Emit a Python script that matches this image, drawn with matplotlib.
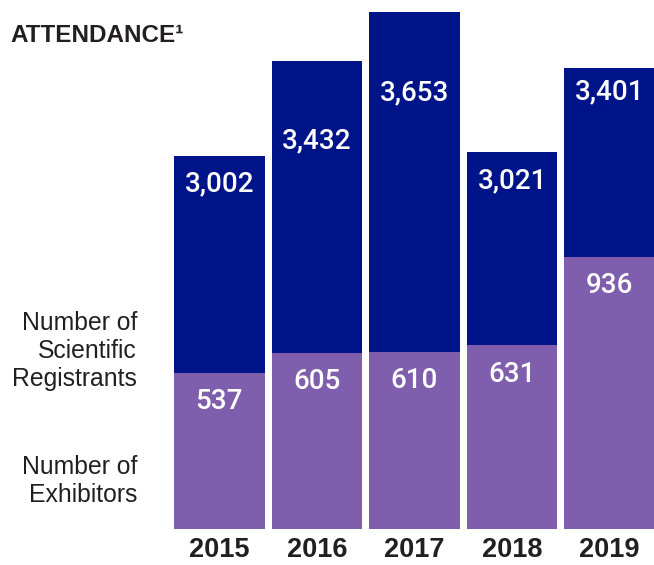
import matplotlib.pyplot as plt

years = ['2015', '2016', '2017', '2018', '2019']
registrants = [3002, 3432, 3653, 3021, 3401]
exhibitors = [537, 605, 610, 631, 936]

navy = '#001489'
purple = '#7f5ead'
ink = '#231f20'

plt.rcParams['font.family'] = ['Liberation Sans', 'DejaVu Sans']

fig = plt.figure(figsize=(6.54, 5.65), dpi=100)
ax = fig.add_axes([174 / 654, 36 / 565, 481 / 654, 529 / 565])
ax2 = ax.twinx()

x = list(range(len(years)))
w = 0.93

# registrants: full bar, axis does not start at zero (as in the original)
ax.bar(x, registrants, width=w, color=navy)
ax.set_ylim(1316, 3707)
ax.set_xlim(-0.465, 4.465)

# exhibitors drawn in front on their own scale
ax2.bar(x, exhibitors, width=w, color=purple)
ax2.set_ylim(0, 1818)

# how far the white numbers sit below each navy bar top (pixels)
reg_label_drop = [28, 80, 81, 29, 24]

# labels go on ax2 so they stay above both sets of bars
for i, v in enumerate(registrants):
    xy = ax2.transData.inverted().transform(ax.transData.transform((i, v)))
    ax2.annotate(f'{v:,}', xy=xy, xytext=(0, -reg_label_drop[i]), textcoords='offset pixels',
                 ha='center', va='center', color='white', fontsize=20,
                 family=['Roboto', 'DejaVu Sans'], fontweight='medium')

for i, v in enumerate(exhibitors):
    ax2.annotate(f'{v}', xy=(i, v), xytext=(0, -29), textcoords='offset pixels',
                 ha='center', va='center', color='white', fontsize=20,
                 family=['Roboto', 'DejaVu Sans'], fontweight='medium')

for a in (ax, ax2):
    for s in a.spines.values():
        s.set_visible(False)
    a.set_yticks([])

ax.set_xticks(x)
ax.set_xticklabels(years, fontsize=19.5, fontweight='bold', color=ink)
ax.tick_params(axis='x', length=0, pad=6)

fig.text(10 / 654, 1 - 35 / 565, 'ATTENDANCE\u00b9', fontsize=17.5, fontweight='bold',
         color=ink, ha='left', va='center')
fig.text(137 / 654, 1 - 351 / 565, 'Number of\nScientific\nRegistrants', fontsize=17.8,
         color=ink, ha='right', va='center', linespacing=1.2)
fig.text(137 / 654, 1 - 481 / 565, 'Number of\nExhibitors', fontsize=17.8,
         color=ink, ha='right', va='center', linespacing=1.2)

fig.savefig('out.png', dpi=100)
